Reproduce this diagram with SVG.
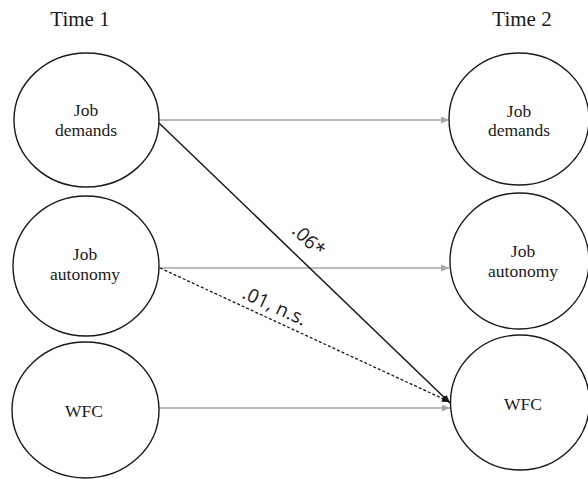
<svg xmlns="http://www.w3.org/2000/svg" width="588" height="479" viewBox="0 0 588 479">
<style>
.node ellipse{fill:#fff;stroke:#1a1a1a;stroke-width:1.4}
.node text, .time{font-family:"Liberation Serif","Times New Roman",serif;fill:#1a1a1a;text-anchor:middle}
.node text{font-size:17.5px}
.time{font-size:21px}
.gray{stroke:#a6a6a6;stroke-width:1.4;fill:none}
.blk{stroke:#1a1a1a;stroke-width:1.5;fill:none}
.dash{stroke:#1a1a1a;stroke-width:1.3;fill:none;stroke-dasharray:3 2}
.lbl{font-family:"Open Sans","Liberation Sans",sans-serif;font-size:19px;fill:#1a1a1a}
</style>
<defs>
<marker id="ag" markerUnits="userSpaceOnUse" markerWidth="9" markerHeight="8" refX="8" refY="3.5" orient="auto"><path d="M0,0 L8,3.5 L0,7 z" fill="#a6a6a6"/></marker>
<marker id="ab" markerUnits="userSpaceOnUse" markerWidth="9" markerHeight="8" refX="8" refY="3.5" orient="auto"><path d="M0,0 L8,3.5 L0,7 z" fill="#111"/></marker>
</defs>
<rect width="588" height="479" fill="#fff"/>
<text class="time" x="80" y="26">Time 1</text>
<text class="time" x="522" y="26">Time 2</text>
<g id="connectors">
<line class="gray" x1="159" y1="120" x2="449" y2="120" marker-end="url(#ag)"/>
<line class="gray" x1="159" y1="268" x2="449" y2="268" marker-end="url(#ag)"/>
<line class="gray" x1="159" y1="408" x2="450" y2="408" marker-end="url(#ag)"/>
<line class="blk" x1="159" y1="123" x2="450" y2="403" marker-end="url(#ab)"/>
<line class="dash" x1="160" y1="268" x2="450" y2="402" marker-end="url(#ab)"/>
<text class="lbl" x="291" y="232" transform="rotate(44 291 232)" textLength="37" lengthAdjust="spacing">.06*</text>
<text class="lbl" x="241" y="297.5" transform="rotate(24.8 241 297.5)" textLength="68" lengthAdjust="spacing">.01, n.s.</text>
</g>
<g id="t1-demands" class="node"><ellipse cx="86.5" cy="120" rx="72.5" ry="67"/><text x="86" y="116">Job</text><text x="86" y="136">demands</text></g>
<g id="t1-autonomy" class="node"><ellipse cx="86" cy="266" rx="73" ry="70"/><text x="85" y="260">Job</text><text x="85" y="280">autonomy</text></g>
<g id="t1-wfc" class="node"><ellipse cx="85.5" cy="410" rx="73.5" ry="68"/><text x="84" y="417">WFC</text></g>
<g id="t2-demands" class="node"><ellipse cx="519" cy="119" rx="70" ry="66"/><text x="519" y="117">Job</text><text x="519" y="136">demands</text></g>
<g id="t2-autonomy" class="node"><ellipse cx="519.5" cy="261" rx="69.5" ry="68"/><text x="523" y="257">Job</text><text x="523" y="277">autonomy</text></g>
<g id="t2-wfc" class="node"><ellipse cx="520" cy="402.5" rx="69.5" ry="67.5"/><text x="523" y="410">WFC</text></g>
</svg>
